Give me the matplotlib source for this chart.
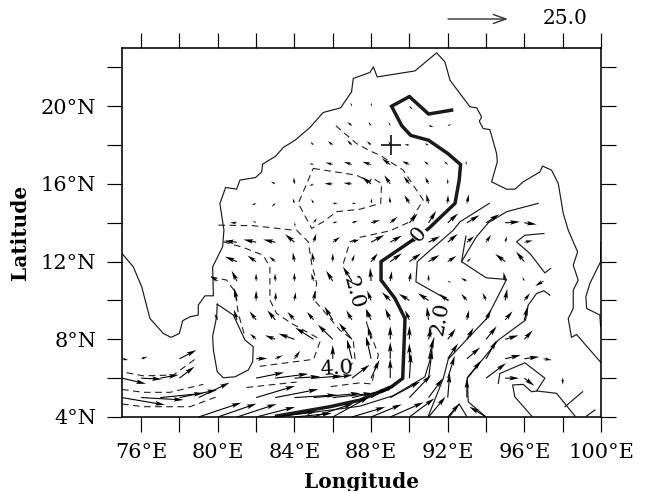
import matplotlib
matplotlib.use("Agg")
import matplotlib.pyplot as plt
import numpy as np

plt.rcParams['font.family'] = ['DejaVu Serif']

# ---- wind vectors (tail on a 1-degree grid); raw units are 25/180 of a key unit
row_lats = [20, 19, 18, 17, 16, 15, 14, 13, 12, 11, 10, 9, 8, 7, 6, 5, 4]
row_lons = [
    [87, 88, 90],
    [87, 88, 89, 91, 92],
    [85, 86, 87, 88, 89, 90, 91],
    [85, 86, 87, 88, 89, 90, 91, 92, 93],
    [83, 84, 85, 86, 87, 88, 89, 90, 91, 92],
    [82, 83, 84, 85, 86, 87, 88, 89, 90, 91, 92, 93],
    [81, 82, 84, 85, 86, 87, 88, 89, 90, 91, 92, 93, 94, 95, 96],
    [81, 82, 83, 84, 85, 86, 87, 88, 89, 90, 91, 92, 93, 94, 95, 96],
    [81, 82, 83, 84, 85, 86, 87, 88, 89, 90, 91, 92, 93, 95, 96],
    [80, 81, 82, 83, 84, 85, 86, 87, 88, 89, 90, 91, 92, 93, 95, 96, 97],
    [81, 82, 83, 84, 85, 88, 89, 90, 91, 92, 93, 94, 95, 96],
    [80, 81, 82, 83, 84, 85, 86, 87, 88, 89, 90, 91, 93, 94, 95, 96],
    [82, 83, 84, 85, 86, 87, 88, 89, 90, 91, 92, 93, 94, 95, 96],
    [75, 76, 78, 82, 83, 84, 86, 87, 88, 89, 90, 91, 92, 93, 94, 95, 96, 97],
    [75, 76, 77, 78, 82, 83, 84, 85, 86, 87, 88, 89, 90, 91, 92, 93, 94, 95, 96, 98],
    [75, 76, 77, 78, 79, 82, 83, 84, 85, 86, 87, 88, 89, 90, 91, 92, 93],
    [79, 80, 81, 82, 83, 84, 85, 86, 87, 88, 89, 90, 91, 92, 94],
]
row_u = [
    [-4, 2, 10],
    [-14, -8, -5, 15, 11],
    [-10, -15, -14, -13, -5, -15, -12],
    [-13, -22, -24, -26, -25, -22, -14, -11, -4],
    [-13, -2, -13, -25, -25, -28, -18, -17, -10, 0],
    [-13, -11, -5, -7, 15, 13, 2, -2, -15, -7, 1, 6],
    [-21, -10, 3, 10, 15, 18, 27, 22, 25, 23, 31, 38, 40, 44, 37],
    [-39, -38, -36, -28, 8, 22, 23, 40, 35, 35, 35, 30, 22, 15, 5, 25],
    [-36, -26, -18, -5, -5, 0, 8, 20, 35, 35, 33, 26, 13, -30, -25],
    [-22, -16, 0, -1, 0, -7, -20, -27, -3, 5, 5, 0, 10, -18, -5, -6, -25],
    [-9, 0, 2, 4, 5, -12, -25, -32, -32, -26, -17, -10, 6, 17],
    [-10, -9, -20, -24, -21, -20, -25, -17, -16, -15, -13, -5, 6, 15, 22, 10],
    [-18, -31, -48, -55, -45, -39, -10, 0, 0, 8, 24, 20, 32, 40, 25],
    [19, 19, 51, 34, 22, 17, 0, -15, -15, 0, 0, 15, 31, 40, 32, 47, 45, 25],
    [72, 62, 55, 45, 84, 99, 77, 85, 60, 53, 25, 0, 5, 11, 21, 43, 60, 42, 30, 0],
    [129, 127, 130, 113, 93, 117, 129, 127, 140, 120, 115, 72, 90, 65, 43, 6, 0],
    [128, 116, 119, 117, 124, 112, 120, 110, 100, 92, 100, 75, 51, 36, -50],
]
row_v = [
    [11, 11, -10],
    [11, 11, 11, -4, 4],
    [10, 12, 15, 12, 12, 2, 5],
    [3, 6, 8, 8, 18, 10, 10, 10, 11],
    [7, 20, -6, 1, 3, 21, 26, 23, 21, 16],
    [-5, -10, 15, 13, 0, 0, 15, 20, 25, 28, 25, 27],
    [0, 6, -12, 14, 3, 6, 8, 18, 28, 36, 28, 23, 26, 3, -5],
    [4, 8, 8, 24, 26, 16, 8, 22, 20, 20, 18, 25, 18, 22, 18, 5],
    [15, 18, 15, 28, 28, 25, 21, 25, 25, 25, 20, 17, 10, 23, 30],
    [13, 31, 23, 23, 25, 23, 31, 43, 40, 30, 27, 20, -5, 9, 27, 12, -15],
    [38, 30, 25, 25, 30, 30, 25, 20, 22, 20, 20, 23, 35, 22],
    [18, 31, 26, 29, 24, 24, 40, 29, 34, 34, 29, 39, 29, 31, 26, 41],
    [17, 12, 17, 35, 44, 49, 40, 40, 40, 35, 32, 35, 39, 12, 27],
    [-4, 6, 26, 1, 10, 24, 41, 58, 67, 50, 46, 61, 46, 34, 56, 11, 6, -4],
    [-17, -3, 10, 35, 17, 13, 5, 7, 10, 40, 55, 58, 75, 85, 67, 53, 45, 0, -23, -20],
    [-22, -7, 13, 23, 45, 35, 25, 8, 13, 13, 25, 38, 48, 68, 58, 73, 58],
    [43, 40, 39, 30, 16, 11, 41, 61, 30, 38, 44, 56, 61, 41, 31],
]

# ---- coastlines
coast_main_lon = [75.0, 75.59, 76.03, 76.46, 77.16, 77.56, 77.99, 78.17, 78.55, 78.98, 78.98, 79.33, 79.77,
                  79.73, 80.25, 80.32, 80.11, 80.41, 80.98, 81.16, 81.97, 82.29, 82.34, 83.02, 83.42, 84.03,
                  84.81, 85.50, 86.41, 86.98, 87.07, 87.94, 88.12, 88.32, 90.29, 91.42, 91.85, 92.12, 93.16,
                  93.51, 93.77, 93.65, 93.85, 94.20, 94.55, 94.59, 94.29, 95.07, 95.51, 95.94, 96.81, 96.95,
                  97.42, 97.77, 98.03, 98.29, 98.78, 98.55, 98.81, 98.55, 98.55, 98.29, 98.46, 98.72, 100.0]
coast_main_lat = [12.42, 11.73, 10.70, 9.07, 8.30, 8.10, 8.30, 8.96, 9.16, 9.25, 9.76, 10.24, 10.24,
                  11.73, 12.76, 13.62, 14.99, 15.82, 15.73, 16.20, 16.33, 16.62, 17.02, 17.43, 17.88, 18.25,
                  18.91, 19.68, 19.92, 20.74, 21.43, 21.74, 22.03, 21.51, 21.82, 22.75, 22.29, 21.34, 19.97,
                  19.92, 19.45, 19.23, 18.85, 18.80, 17.57, 17.14, 16.11, 15.73, 15.73, 16.11, 16.62, 16.92,
                  16.71, 16.02, 14.48, 13.62, 12.50, 11.82, 11.05, 10.53, 9.59, 9.07, 8.10, 8.25, 6.80]
coast_east_lon = [100.0, 99.98, 99.42, 99.21, 99.25, 99.94, 99.98]
coast_east_lat = [13.0, 12.0, 10.88, 10.19, 9.59, 9.25, 8.65]
lanka_lon = [79.97, 80.81, 81.42, 81.85, 81.82, 81.59, 80.90, 80.29, 79.97, 79.77, 79.73, 79.94, 79.97]
lanka_lat = [9.81, 9.25, 7.96, 7.62, 6.85, 6.42, 6.07, 6.02, 6.33, 7.45, 8.15, 9.16, 9.81]

# ---- zero contour (thick)
zero_lon = [92.2, 91.0, 90.0, 89.07, 89.6, 90.07, 91.0, 92.0, 92.67, 92.6, 92.38, 91.0, 90.29, 88.52, 88.52,
            89.25, 89.77, 89.73, 89.65, 89.07, 87.42, 85.85, 83.07]
zero_lat = [19.8, 19.6, 20.5, 20.0, 19.0, 18.5, 18.25, 17.57, 17.0, 16.2, 15.0, 13.7, 13.19, 12.0, 11.05,
            10.1, 9.07, 7.96, 5.99, 5.56, 4.87, 4.53, 4.05]

# ---- positive contours (solid)
solid_lons = [
    [82.9, 85.85, 87.42, 89.16, 90.81, 91.07, 91.28],
    [92.03, 90.34, 90.41, 92.29, 92.64, 94.17],
    [96.72, 95.07, 94.12, 93.5, 92.72, 94.0, 95.07, 94.03, 92.03, 91.77, 90.99],
    [92.95, 92.72],
    [94.0, 93.07, 93.02, 94.64, 96.06, 96.2, 96.64, 97.02, 97.33],
    [92.12, 92.6, 92.98],
    [97.02, 96.03, 95.59, 96.29, 97.07, 97.37],
    [94.64, 94.72, 96.03, 97.07, 96.64, 97.68, 98.64],
    [96.64, 96.38, 95.94, 95.39, 95.5, 96.38],
    [98.12, 99.04],
    [99.25, 99.68],
]
solid_lats = [
    [4.0, 4.35, 4.56, 5.1, 6.07, 6.93, 8.05],
    [10.02, 10.96, 12.0, 13.62, 14.05, 15.0],
    [15.0, 14.57, 14.0, 13.28, 12.0, 11.17, 11.08, 9.07, 6.98, 5.99, 4.05],
    [13.31, 12.0],
    [4.0, 4.78, 5.99, 7.96, 8.99, 9.76, 10.36, 10.5, 10.27],
    [4.05, 4.67, 4.05],
    [13.45, 13.36, 13.02, 12.42, 11.42, 11.65],
    [5.73, 6.24, 6.79, 6.0, 5.34, 5.22, 4.05],
    [5.34, 5.3, 5.68, 5.65, 5.04, 4.05],
    [4.53, 5.3],
    [4.05, 4.36],
]

# ---- negative contours (dashed)
dash_lons = [
    [80.29, 81.33, 82.37, 82.72, 82.72, 83.07, 83.85, 85.16, 85.33, 85.0, 82.03],
    [79.64, 80.46, 80.9, 81.07, 81.42],
    [84.11, 84.72, 84.9, 85.16, 85.03, 85.5, 86.37, 87.07, 87.16, 86.9],
    [86.55, 86.9, 87.42, 88.99, 90.03, 90.72, 89.68, 88.46, 87.94, 87.24, 86.06],
    [87.77, 87.77, 88.38, 88.03, 87.42, 85.85],
    [81.5, 84.11],
    [75.24, 76.11, 77.68, 78.98],
    [75.0, 76.11, 77.5, 79.24],
    [75.0, 76.11, 78.55, 79.94],
    [80.03, 81.85, 83.94, 84.11],
    [84.98, 87.24, 87.94, 88.03, 88.55, 88.5, 87.42, 86.2, 85.5, 84.9, 84.2, 84.98],
]
dash_lats = [
    [13.02, 12.73, 12.33, 11.73, 10.02, 9.33, 8.82, 8.1, 7.87, 6.97, 6.59],
    [11.22, 11.05, 10.45, 9.33, 8.13],
    [13.62, 13.02, 11.9, 10.88, 10.02, 9.5, 8.47, 7.96, 7.0, 6.59],
    [11.9, 13.02, 13.25, 13.59, 14.05, 15.17, 16.71, 17.48, 17.7, 18.08, 19.08],
    [9.5, 8.82, 7.2, 5.7, 5.76, 5.56],
    [5.52, 5.8],
    [6.28, 6.12, 6.16, 7.1],
    [5.42, 5.27, 5.27, 5.68],
    [4.67, 4.53, 4.53, 5.04],
    [13.88, 13.85, 13.62, 13.62],
    [16.8, 16.45, 16.11, 16.33, 16.02, 15.0, 14.7, 14.57, 14.05, 13.71, 15.0, 16.8],
]

# ---- contour labels and marker
label_text = ["2.0", "4.0", "2.0", "0"]
label_lon = [87.07, 86.2, 91.6, 90.5]
label_lat = [10.4, 6.5, 9.07, 13.42]
label_rot = [-75, 3, 80, 50]
marker_lon, marker_lat = 89.02, 18.03

x_ticks = list(range(76, 101, 2))
y_ticks = list(range(4, 23, 2))
x_labels = [f"{v}°E" if (v - 76) % 4 == 0 else "" for v in x_ticks]
y_labels = [f"{v}°N" if (v - 4) % 4 == 0 else "" for v in y_ticks]

fig = plt.figure(figsize=(6.5, 4.91), dpi=100)
ax = fig.add_axes([122 / 650, 1 - 417 / 491, 479 / 650, 369 / 491])
ax.set_xlim(75, 100)
ax.set_ylim(4, 23)

line_kw = dict(color='#1a1a1a', lw=0.85)
ax.plot(coast_main_lon, coast_main_lat, **line_kw)
ax.plot(coast_east_lon, coast_east_lat, **line_kw)
ax.plot(lanka_lon, lanka_lat, **line_kw)
for xs, ys in zip(solid_lons, solid_lats):
    ax.plot(xs, ys, **line_kw)
for xs, ys in zip(dash_lons, dash_lats):
    ax.plot(xs, ys, color='#222222', lw=0.8, dashes=(6, 4))
ax.plot(zero_lon, zero_lat, color='#1a1a1a', lw=2.5, solid_joinstyle='miter')

w_lon, w_lat, w_u, w_v = [], [], [], []
for lat, lons, us, vs in zip(row_lats, row_lons, row_u, row_v):
    assert len(lons) == len(us) == len(vs), lat
    w_lon += lons
    w_lat += [lat] * len(lons)
    w_u += us
    w_v += vs
w_u = np.array(w_u) * 25 / 180
w_v = np.array(w_v) * 25 / 180
ax.quiver(w_lon, w_lat, w_u, w_v, angles='uv', scale_units='inches', scale=25 / 0.6,
          pivot='tail', units='dots', width=1.1, headwidth=4.2, headlength=9, headaxislength=7.5,
          minlength=0.4, minshaft=1.2, color='black', clip_on=False, zorder=3)

for t, x, y, r in zip(label_text, label_lon, label_lat, label_rot):
    ax.text(x, y, t, rotation=r, ha='center', va='center', fontsize=15, zorder=4,
            rotation_mode='anchor', bbox=dict(fc='white', ec='none', pad=0.3) if t == "0" else None)

ax.plot(marker_lon, marker_lat, marker='+', ms=14.5, mew=1.2, color='#111111', zorder=5)

ax.set_xticks(x_ticks, x_labels)
ax.set_yticks(y_ticks, y_labels)
ax.tick_params(direction='out', length=10.5, width=0.85, top=True, right=True,
               labelsize=15, pad=8.5)
ax.tick_params(axis='y', pad=8)
for s in ax.spines.values():
    s.set_linewidth(1.15)

fig.text(362 / 650, 1 - 482 / 491, "Longitude", ha='center', va='center', fontsize=14.5, fontweight='bold')
fig.text(20 / 650, 1 - 232 / 491, "Latitude", ha='center', va='center', rotation=90, fontsize=14.5, fontweight='bold')

key_value = "25.0"
fig.add_artist(matplotlib.patches.FancyArrowPatch((448 / 650, 1 - 19 / 491), (508 / 650, 1 - 19 / 491),
               transform=fig.transFigure, arrowstyle='->,head_length=7,head_width=2.5', lw=1.0,
               color='#333333', shrinkA=0, shrinkB=0, mutation_scale=1.3))
fig.text(565 / 650, 1 - 18.5 / 491, key_value, ha='center', va='center', fontsize=14.5)

fig.savefig("out.png", dpi=100)
